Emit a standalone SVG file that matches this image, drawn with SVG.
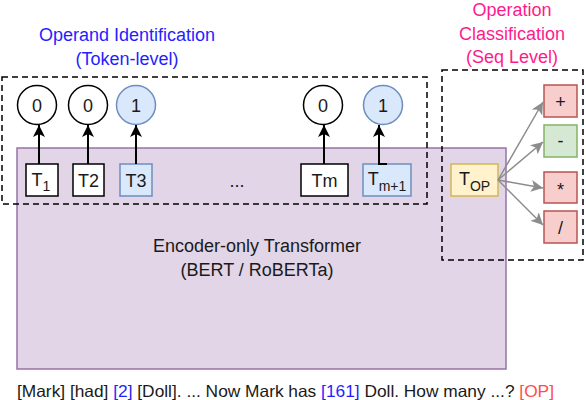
<svg xmlns="http://www.w3.org/2000/svg" width="586" height="400" viewBox="0 0 586 400">
<defs>
<style>
text{font-family:"Liberation Sans",Arial,sans-serif;}
.lbl{font-size:18px;fill:#1a1a1a;text-anchor:middle;}
.ttl{font-size:18px;text-anchor:middle;}
.sub{font-size:14px;}
.dash{fill:none;stroke:#000;stroke-width:1.5;stroke-dasharray:6 4;}
.tok{fill:#fff;stroke:#000;stroke-width:1.5;}
.blue{fill:#dae8fc;stroke:#6c8ebf;stroke-width:1.5;}
.red{fill:#f8cecc;stroke:#b85450;stroke-width:1.5;}
.green{fill:#d5e8d4;stroke:#82b366;stroke-width:1.5;}
.yel{fill:#fff2cc;stroke:#d6b656;stroke-width:1.5;}
.circ{fill:#fff;stroke:#000;stroke-width:1.5;}
.blk{fill:none;stroke:#000;stroke-width:2;marker-end:url(#ab);}
.gry{fill:none;stroke:#8c8c8c;stroke-width:1.5;marker-end:url(#ag);}
</style>
<marker id="ab" markerUnits="userSpaceOnUse" markerWidth="14" markerHeight="14" refX="12" refY="6" orient="auto" viewBox="0 0 14 12">
<path d="M0,0 L12,6 L0,12 L3,6 z" fill="#000"/>
</marker>
<marker id="ag" markerUnits="userSpaceOnUse" markerWidth="14" markerHeight="14" refX="12" refY="6" orient="auto" viewBox="0 0 14 12">
<path d="M0,0 L12,6 L0,12 L3,6 z" fill="#8c8c8c"/>
</marker>
</defs>
<rect width="586" height="400" fill="#fff"/>

<g id="titles">
<text x="127" y="41" class="ttl" style="fill:#1f1fff">Operand Identification</text>
<text x="127" y="65" class="ttl" style="fill:#1f1fff">(Token-level)</text>
<text x="512" y="16" class="ttl" style="fill:#ff1a8c">Operation</text>
<text x="512" y="40" class="ttl" style="fill:#ff1a8c">Classification</text>
<text x="512" y="63" class="ttl" style="fill:#ff1a8c">(Seq Level)</text>
</g>

<g id="encoder">
<rect x="17" y="148" width="489" height="221" fill="#e1d5e7" stroke="#9673a6" stroke-width="1.5"/>
<text x="257" y="252" class="lbl">Encoder-only Transformer</text>
<text x="257" y="276" class="lbl">(BERT / RoBERTa)</text>
</g>

<g id="operand-box"><rect x="2" y="77" width="425" height="127" class="dash"/></g>
<g id="operation-box"><rect x="442" y="70" width="141" height="190" class="dash"/></g>

<g id="c1"><circle cx="37" cy="105" r="19.5" class="circ"/><text x="37" y="111.5" class="lbl">0</text></g>
<g id="c2"><circle cx="88" cy="105" r="19.5" class="circ"/><text x="88" y="111.5" class="lbl">0</text></g>
<g id="c3"><circle cx="136" cy="105" r="19.5" class="blue"/><text x="136" y="111.5" class="lbl">1</text></g>
<g id="c4"><circle cx="323" cy="105" r="19.5" class="circ"/><text x="323" y="111.5" class="lbl">0</text></g>
<g id="c5"><circle cx="383" cy="105" r="19.5" class="blue"/><text x="383" y="111.5" class="lbl">1</text></g>

<g id="t1"><rect x="26" y="164" width="32" height="32" class="tok"/><text x="41" y="186" class="lbl">T<tspan class="sub" dy="5">1</tspan></text></g>
<g id="t2"><rect x="73" y="164" width="31" height="32" class="tok"/><text x="88.5" y="187" class="lbl">T2</text></g>
<g id="t3"><rect x="120" y="164" width="32" height="32" class="blue"/><text x="136" y="187" class="lbl">T3</text></g>
<g id="dots"><text x="237" y="187" class="lbl">...</text></g>
<g id="tm"><rect x="301" y="164" width="47" height="32" class="tok"/><text x="324.5" y="187" class="lbl">Tm</text></g>
<g id="tm1"><rect x="363" y="164" width="48" height="32" class="blue"/><text x="387" y="185" class="lbl">T<tspan class="sub" dy="6">m+1</tspan></text></g>
<g id="top"><rect x="451" y="164" width="47" height="32" class="yel"/><text x="474.5" y="185" class="lbl">T<tspan class="sub" dy="6">OP</tspan></text></g>

<g id="plus"><rect x="544" y="85" width="33" height="32" class="red"/><text x="560.5" y="107.5" class="lbl">+</text></g>
<g id="minus"><rect x="544" y="125" width="33" height="32" class="green"/><text x="560.5" y="147" class="lbl">-</text></g>
<g id="mul"><rect x="544" y="172" width="33" height="31" class="red"/><text x="560.5" y="196" class="lbl">*</text></g>
<g id="div"><rect x="544" y="211" width="33" height="32" class="red"/><text x="560.5" y="233.5" class="lbl">/</text></g>

<g id="connectors">
<path d="M39,164 L39,125" class="blk"/>
<path d="M88,164 L88,125" class="blk"/>
<path d="M136,164 L136,125" class="blk"/>
<path d="M324,164 L324,125" class="blk"/>
<path d="M387,164 L379,164 L379,125" class="blk"/>
<path d="M498,180 L543,102" class="gry"/>
<path d="M498,180 L543,142" class="gry"/>
<path d="M498,180 L543,188" class="gry"/>
<path d="M498,180 L543,225" class="gry"/>
</g>

<g id="input">
<text x="17" y="397" textLength="537" lengthAdjust="spacingAndGlyphs" style="font-size:16.5px;fill:#1a1a1a">[Mark] [had] <tspan fill="#1f1fff">[2]</tspan> [Doll]. ... Now Mark has <tspan fill="#1f1fff">[161]</tspan> Doll. How many ...? <tspan fill="#ff4d4d">[OP]</tspan></text>
</g>
</svg>
